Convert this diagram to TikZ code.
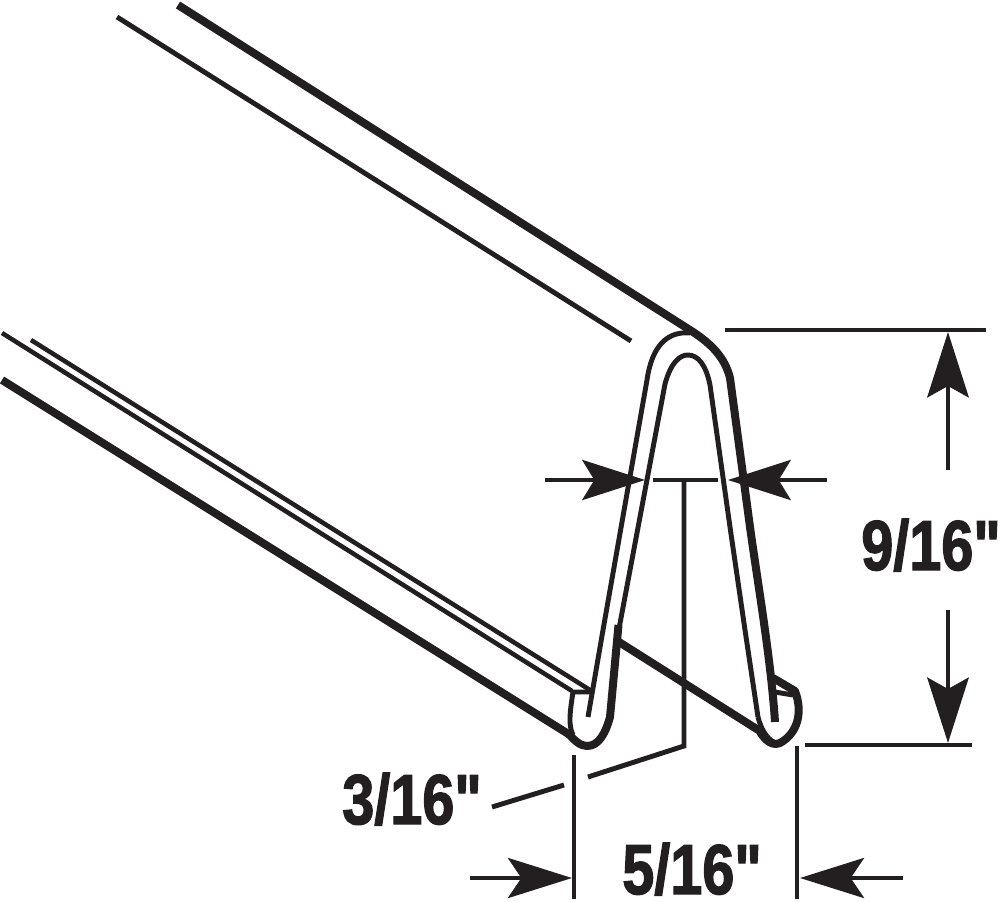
\documentclass[tikz,border=0pt]{standalone}
\usepackage{fontspec}
\newfontfamily\labfont[BoldFeatures={FakeBold=2}]{Liberation Sans}
\usetikzlibrary{arrows.meta}
\definecolor{inkc}{RGB}{35,31,32}
\tikzset{
  px/.style={x=0.75pt,y=-0.75pt},
  thin part/.style={draw=inkc,line width=3.7pt,line join=round},
  thick part/.style={draw=inkc,line width=6pt,line join=round},
  rail part/.style={draw=inkc,line width=3.4pt,line join=round},
  dim line/.style={draw=inkc,line width=3.7pt},
  bighead/.style={-{Stealth[length=49pt,width=31pt,inset=8.5pt,fill=inkc]}},
  midhead/.style={-{Stealth[length=47pt,width=30pt,inset=9pt,fill=inkc]}},
  widehead/.style={-{Stealth[length=48pt,width=30pt,inset=10pt,fill=inkc]}},
  dimlabel/.style={text=inkc,font=\labfont\fontsize{53}{53}\selectfont\bfseries,xscale=.815,transform shape,inner sep=0pt,anchor=base}
}
\begin{document}
\begin{tikzpicture}[px]
\useasboundingbox (0,0) rectangle (1000,902);
% top edges
\draw[thick part] (178,5) -- (690,330) .. controls (712,344) and (725,358) .. (730,378) -- (750,527) .. controls (758,585) and (771,660) .. (775,722);
\draw[thin part] (117,17) -- (631,341);
% outer arch and left inner leg
\draw[thin part] (690,333) .. controls (668,331) and (652,345) .. (647,380) -- (603,630) -- (588,717);
\draw[thin part] (618,634) -- (665,384) .. controls (671,362) and (680,355) .. (688,355) .. controls (698,355) and (706,365) .. (710,385) -- (730,527) -- (745,630) -- (758,717);
% left foot
\draw[thick part] (618.5,625) -- (610,717) .. controls (605,735) and (598,746) .. (587,746) .. controls (580,746) and (574,740) .. (568,733);
\draw[thin part] (573,735) .. controls (568,725) and (570,712) .. (573,692) -- (592,692);
% left rails
\draw[thick part] (2,380) -- (570,735);
\draw[rail part] (2,333) -- (572,691);
\draw[rail part] (31,340) -- (590,690);
% middle rail
\draw[thick part] (619,642) -- (763,733);
% right foot
\draw[thin part] (758,717) .. controls (762,733) and (770,742) .. (777,743);
\draw[thick part] (773,678) -- (795,691) .. controls (803,712) and (798,733) .. (780,743) .. controls (772,746) and (766,741) .. (760,732);
\draw[thin part] (775,692) -- (793,695);
% dimension: 9/16
\coordinate (hTopA) at (725,330); \coordinate (hTopB) at (986,330);
\coordinate (hBotA) at (805,745); \coordinate (hBotB) at (972,745);
\draw[dim line] (hTopA) -- (hTopB);
\draw[dim line] (hBotA) -- (hBotB);
\coordinate (aUp) at (948,470); \coordinate (aUpTip) at (948,332);
\coordinate (aDn) at (948,610); \coordinate (aDnTip) at (948,743);
\draw[dim line,bighead] (aUp) -- (aUpTip);
\draw[dim line,bighead] (aDn) -- (aDnTip);
\node[dimlabel] (lab916) at (931,570) {9/16"};
% dimension: 3/16
\coordinate (wLA) at (545,480); \coordinate (wLB) at (645,480);
\coordinate (wRA) at (827,480); \coordinate (wRB) at (728,480);
\coordinate (wMA) at (653,480); \coordinate (wMB) at (718,480);
\coordinate (wDrop) at (684,480); \coordinate (wCorner) at (684,746);
\coordinate (wEnd) at (588,777); \coordinate (wLab) at (564,785); \coordinate (wLabEnd) at (492,807);
\draw[dim line,midhead] (wLA) -- (wLB);
\draw[dim line,midhead] (wRA) -- (wRB);
\draw[dim line] (wMA) -- (wMB);
\draw[dim line,line join=miter] (wDrop) -- (wCorner) -- (wEnd);
\draw[dim line] (wLab) -- (wLabEnd);
\node[dimlabel] (lab316) at (412,824) {3/16"};
% dimension: 5/16
\coordinate (bLA) at (574,755); \coordinate (bLB) at (574,899);
\coordinate (bRA) at (797,746); \coordinate (bRB) at (797,899);
\draw[dim line] (bLA) -- (bLB);
\draw[dim line] (bRA) -- (bRB);
\coordinate (bAL) at (470,878); \coordinate (bALt) at (572,878);
\coordinate (bAR) at (903,878); \coordinate (bARt) at (800,878);
\draw[dim line,widehead] (bAL) -- (bALt);
\draw[dim line,widehead] (bAR) -- (bARt);
\node[dimlabel] (lab516) at (692,894) {5/16"};
\end{tikzpicture}
\end{document}
